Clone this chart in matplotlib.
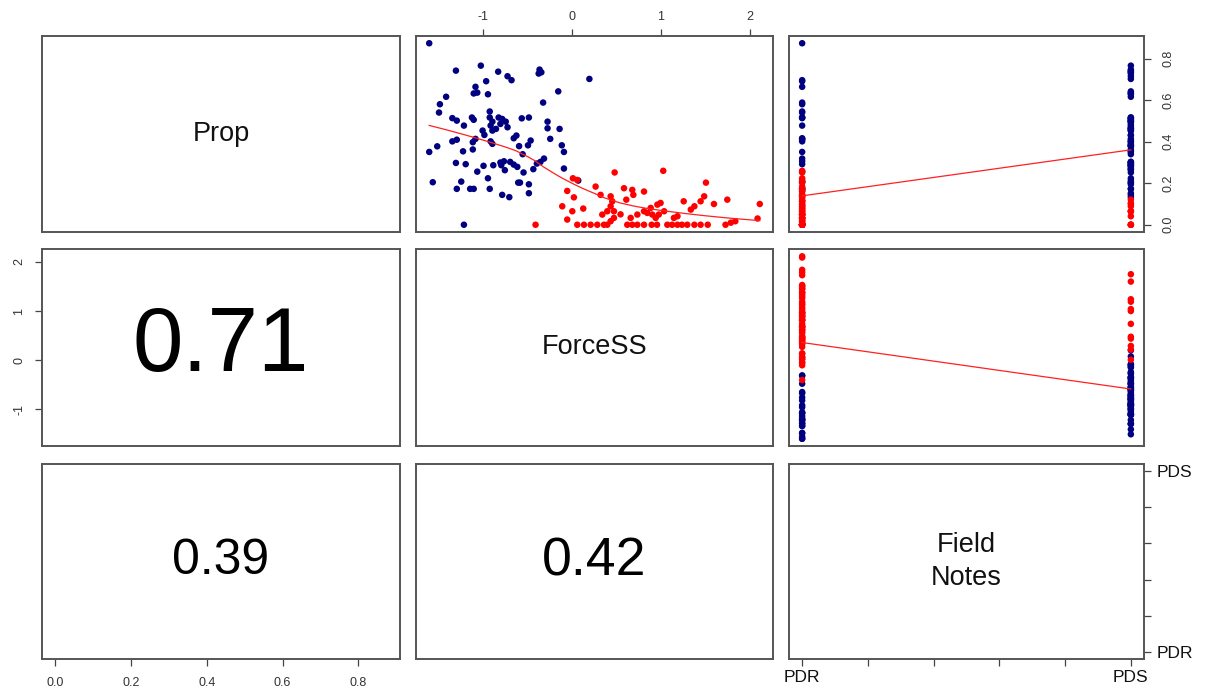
import numpy as np
import matplotlib
matplotlib.use("Agg")
import matplotlib.pyplot as plt

plt.rcParams["font.family"] = ["Liberation Sans", "DejaVu Sans"]
plt.rcParams["axes.unicode_minus"] = False

# ---- variables -------------------------------------------------------------
var_names = ["Prop", "ForceSS", "Field\nNotes"]
field_levels = ["PDR", "PDS"]
cor_values = [0.71, 0.39, 0.42]          # Prop~ForceSS, Prop~Field, ForceSS~Field

# cluster 1 (navy)
navy_force = [-1.60, -1.30, -1.02, -0.825, -0.72, -0.675, -0.36, -0.34, -0.37, 0.20,
              -0.96, -1.08, -1.06, -1.10, -0.94, -1.41, -1.48, -1.49, -0.15, -0.32,
              -0.92, -1.34, -1.29, -1.21, -1.12, -1.10, -0.92, -0.89, -0.91, -0.82,
              -0.78, -0.74, -0.80, -0.85, -0.89, -0.72, -0.56, -0.48, -0.27, -0.27,
              -0.135, -1.00, -0.98, -0.62, -0.65, -0.24, -1.34, -1.29, -1.11, -1.08,
              -0.91, -0.89, -0.46, -0.49, -0.59, -0.11, -0.086, -1.51, -1.60, -1.22,
              -1.11, -0.55, -0.31, -0.35, -0.39, -1.30, -1.19, -0.99, -0.88, -0.80,
              -0.76, -0.79, -0.69, -0.65, -0.61, -1.06, -0.75, -0.54, -0.43, -0.086,
              -0.94, -1.56, -1.24, -0.60, -0.58, -0.48, -1.29, -1.14, -1.10, -0.92,
              -0.48, -0.78, -0.70, 0.075, -1.21]
navy_prop = [0.875, 0.743, 0.767, 0.738, 0.716, 0.697, 0.748, 0.735, 0.729, 0.703,
             0.692, 0.665, 0.637, 0.633, 0.629, 0.617, 0.581, 0.541, 0.643, 0.589,
             0.546, 0.514, 0.502, 0.478, 0.517, 0.506, 0.517, 0.497, 0.478, 0.517,
             0.510, 0.497, 0.486, 0.462, 0.454, 0.470, 0.513, 0.517, 0.497, 0.465,
             0.462, 0.454, 0.433, 0.430, 0.417, 0.414, 0.402, 0.410, 0.398, 0.414,
             0.402, 0.390, 0.406, 0.383, 0.379, 0.383, 0.351, 0.378, 0.351, 0.354,
             0.363, 0.340, 0.319, 0.303, 0.295, 0.298, 0.292, 0.284, 0.287, 0.300,
             0.306, 0.287, 0.303, 0.290, 0.279, 0.256, 0.263, 0.252, 0.268, 0.271,
             0.224, 0.205, 0.208, 0.203, 0.203, 0.195, 0.173, 0.173, 0.173, 0.173,
             0.152, 0.144, 0.133, 0.213, 0.0]
navy_field = ["PDR", "PDS", "PDS", "PDS", "PDS", "PDR", "PDS", "PDS", "PDS", "PDS",
              "PDR", "PDR", "PDS", "PDS", "PDS", "PDS", "PDR", "PDR", "PDS", "PDR",
              "PDR", "PDR", "PDS", "PDR", "PDS", "PDS", "PDS", "PDS", "PDS", "PDR",
              "PDS", "PDS", "PDS", "PDS", "PDS", "PDS", "PDS", "PDR", "PDS", "PDS",
              "PDS", "PDS", "PDS", "PDS", "PDR", "PDS", "PDR", "PDR", "PDS", "PDR",
              "PDS", "PDS", "PDS", "PDS", "PDS", "PDS", "PDS", "PDS", "PDR", "PDS",
              "PDS", "PDS", "PDR", "PDS", "PDS", "PDS", "PDR", "PDS", "PDS", "PDS",
              "PDR", "PDS", "PDS", "PDS", "PDS", "PDR", "PDS", "PDS", "PDS", "PDS",
              "PDS", "PDR", "PDR", "PDS", "PDS", "PDS", "PDR", "PDR", "PDS", "PDS",
              "PDS", "PDS", "PDS", "PDS", "PDR"]

# cluster 2 (red)
red_force = [-0.405, 0.484, 1.03, 1.51, 0.015, 0.064, -0.049, 0.026, 0.27, 0.326,
             0.439, 0.457, 0.589, 0.682, 0.694, 0.814, 0.615, -0.105, 0.008, 0.131,
             0.345, 0.401, 0.439, 0.476, -0.049, 0.064, 0.139, 0.214, 0.289, 0.364,
             0.401, 0.439, 0.476, 0.626, 0.682, 0.739, 0.814, 0.664, 0.739, 0.814,
             0.889, 0.851, 0.964, 1.00, 1.04, 0.98, 1.076, 1.13, 1.19, 1.24,
             1.30, 1.38, 1.45, 1.53, 1.26, 1.34, 1.38, 1.45, 1.49, 1.60,
             1.75, 1.73, 1.79, 1.84, 2.09, 2.115, 1.15, 1.19, 0.907, 0.945,
             0.90, 0.96, 0.55]
red_prop = [0.0, 0.252, 0.260, 0.203, 0.224, 0.216, 0.163, 0.132, 0.184, 0.144,
            0.137, 0.113, 0.176, 0.168, 0.144, 0.160, 0.121, 0.089, 0.065, 0.078,
            0.049, 0.065, 0.089, 0.065, 0.025, 0.0, 0.0, 0.0, 0.0, 0.0,
            0.0, 0.017, 0.033, 0.0, 0.0, 0.0, 0.0, 0.033, 0.049, 0.065,
            0.081, 0.057, 0.097, 0.105, 0.065, 0.049, 0.0, 0.0, 0.0, 0.0,
            0.0, 0.0, 0.0, 0.0, 0.113, 0.073, 0.089, 0.113, 0.137, 0.10,
            0.121, 0.0, 0.01, 0.017, 0.030, 0.10, 0.033, 0.041, 0.049, 0.033,
            0.0, 0.0, 0.05]
red_field = ["PDR", "PDR", "PDR", "PDR", "PDR", "PDR", "PDR", "PDR", "PDR", "PDR",
             "PDR", "PDR", "PDR", "PDR", "PDR", "PDR", "PDR", "PDR", "PDS", "PDR",
             "PDR", "PDR", "PDS", "PDS", "PDR", "PDR", "PDR", "PDS", "PDS", "PDR",
             "PDR", "PDR", "PDR", "PDR", "PDR", "PDS", "PDR", "PDR", "PDR", "PDR",
             "PDR", "PDR", "PDR", "PDS", "PDS", "PDR", "PDR", "PDR", "PDR", "PDS",
             "PDR", "PDR", "PDR", "PDR", "PDR", "PDR", "PDR", "PDR", "PDR", "PDS",
             "PDS", "PDR", "PDR", "PDR", "PDR", "PDR", "PDR", "PDS", "PDR", "PDR",
             "PDR", "PDR", "PDR"]

cluster_colors = ["#000080", "#ff0000"]


def lowess(x, y, f=2 / 3, iters=3):
    """Robust locally weighted regression (Cleveland 1979)."""
    order = np.argsort(x, kind="mergesort")
    x = np.asarray(x, float)[order]
    y = np.asarray(y, float)[order]
    n = len(x)
    ns = max(min(int(f * n + 1e-7), n), 2)
    span = x[-1] - x[0]
    rw = np.ones(n)
    fit = y.copy()
    for it in range(iters + 1):
        for i in range(n):
            d = np.abs(x - x[i])
            h = np.partition(d, ns - 1)[ns - 1]
            if h > 0:
                q = d / h
                w = np.where(q <= 0.999, np.where(q <= 0.001, 1.0, (1 - q ** 3) ** 3), 0.0)
            else:
                w = (d == 0).astype(float)
            w = w * rw
            tot = w.sum()
            if tot <= 0:
                fit[i] = y[i]
                continue
            w = w / tot
            if h > 0:
                a = np.sum(w * x)
                c = np.sum(w * (x - a) ** 2)
                if np.sqrt(c) > 0.001 * span:
                    b = (x[i] - a) / c
                    w = w * (b * (x - a) + 1.0)
            fit[i] = np.sum(w * y)
        if it == iters:
            break
        res = np.abs(y - fit)
        cmad = 6 * np.median(res)
        if cmad < 1e-7 * np.mean(res):
            break
        r = res / cmad
        rw = np.where(r <= 0.001, 1.0, np.where(r > 0.999, 0.0, (1 - r ** 2) ** 2))
    return x, fit


force = np.array(navy_force + red_force)
prop = np.array(navy_prop + red_prop)
field = np.array([field_levels.index(v) + 1 for v in navy_field + red_field], float)
colors = [cluster_colors[0]] * len(navy_force) + [cluster_colors[1]] * len(red_force)
columns = [prop, force, field]


def padded(v):
    lo, hi = float(np.min(v)), float(np.max(v))
    d = 0.04 * (hi - lo)
    return lo - d, hi + d


W, H = 1206, 696
fig = plt.figure(figsize=(W / 100, H / 100), dpi=100)
fig.patch.set_facecolor("white")

col_left = [42, 416, 789]
col_width = [358, 357, 355]
row_top = [36, 249, 464]
row_height = [196, 197, 195]

frame_color = "#555555"
tick_kw = dict(direction="out", length=5, width=0.9, color="#444444",
               labelsize=9, labelcolor="#333333")

cor_cells = [(1, 0), (2, 0), (2, 1)]
axes = {}
for i in range(3):
    for j in range(3):
        ax = fig.add_axes([col_left[j] / W, 1 - (row_top[i] + row_height[i]) / H,
                           col_width[j] / W, row_height[i] / H])
        axes[(i, j)] = ax
        ax.set_xlim(*padded(columns[j]))
        ax.set_ylim(*padded(columns[i]))
        ax.set_xticks([])
        ax.set_yticks([])
        for sp in ax.spines.values():
            sp.set_color(frame_color)
            sp.set_linewidth(1.4)
        if i == j:
            ax.text(0.5, 0.5, var_names[i], transform=ax.transAxes, ha="center",
                    va="center", fontsize=19.5, color="#111111", linespacing=1.35)
        elif i < j:
            ax.scatter(columns[j], columns[i], c=colors, s=22, linewidths=0, zorder=2)
            sx, sy = lowess(columns[j], columns[i])
            ax.plot(sx, sy, color="#ff2020", lw=0.9, zorder=3)

for (i, j), r in zip(cor_cells, cor_values):
    axes[(i, j)].text(0.5, 0.5, f"{r:.2f}", transform=axes[(i, j)].transAxes,
                      ha="center", va="center", fontsize=92 * r, color="black")

# outer axes
ax = axes[(0, 1)]
ax.xaxis.set_ticks_position("top")
ax.set_xticks([-1, 0, 1, 2])
ax.set_xticklabels(["-1", "0", "1", "2"])
ax.tick_params(axis="x", top=True, bottom=False, labeltop=True, labelbottom=False,
               pad=4, **tick_kw)

ax = axes[(0, 2)]
ax.yaxis.tick_right()
ax.set_yticks([0.0, 0.2, 0.4, 0.6, 0.8])
ax.set_yticklabels(["0.0", "0.2", "0.4", "0.6", "0.8"])
ax.tick_params(axis="y", labelrotation=90, pad=8, **tick_kw)
for lab in ax.get_yticklabels():
    lab.set_va("center")

ax = axes[(1, 0)]
ax.set_yticks([-1, 0, 1, 2])
ax.set_yticklabels(["-1", "0", "1", "2"])
ax.tick_params(axis="y", labelrotation=90, pad=7, **tick_kw)
for lab in ax.get_yticklabels():
    lab.set_va("center")

ax = axes[(2, 0)]
ax.set_xticks([0.0, 0.2, 0.4, 0.6, 0.8])
ax.set_xticklabels(["0.0", "0.2", "0.4", "0.6", "0.8"])
ax.tick_params(axis="x", pad=8, **tick_kw)

ax = axes[(2, 2)]
field_ticks = [1.0, 1.2, 1.4, 1.6, 1.8, 2.0]
field_labels = [field_levels[0], "", "", "", "", field_levels[1]]
ax.set_xticks(field_ticks)
ax.set_xticklabels(field_labels)
ax.yaxis.tick_right()
ax.set_yticks(field_ticks)
ax.set_yticklabels(field_labels)
fkw = dict(tick_kw)
fkw.update(labelsize=12.5, labelcolor="#111111")
ax.tick_params(axis="x", pad=3, **fkw)
ax.tick_params(axis="y", pad=4, **fkw)

fig.savefig("out.png", dpi=100, facecolor="white")
